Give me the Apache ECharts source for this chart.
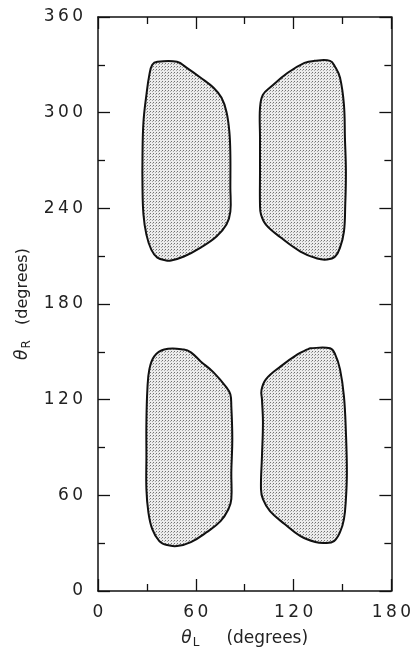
<!DOCTYPE html>
<html>
<head>
<meta charset="utf-8">
<script src="https://cdn.jsdelivr.net/npm/echarts@6/dist/echarts.min.js"></script>
<style>
  html, body { margin: 0; padding: 0; background: #fff; }
  #chart { width: 414px; height: 654px; }
</style>
</head>
<body>
<div id="chart"></div>
<script>
// axis ranges (degrees)
const thetaLRange = [0, 180];
const thetaRRange = [0, 360];
const labelStep = 60;

// region outlines, [θL, θR]
const topLeft = [
  [36.4, 331.9], [48.5, 331.9], [54.5, 328.1], [63.0, 321.9], [70.9, 315.6],
  [75.8, 309.3], [78.8, 300.6], [80.6, 288.0], [81.2, 273.6], [81.2, 253.0],
  [81.2, 237.9], [78.8, 229.8], [72.7, 222.3], [63.0, 215.4], [52.7, 209.8],
  [44.8, 207.3], [41.8, 207.3], [36.4, 209.1], [32.7, 214.1], [29.7, 223.5],
  [27.9, 236.1], [27.3, 253.0], [27.3, 273.6], [27.9, 294.3], [29.7, 311.2],
  [31.5, 323.7], [33.3, 330.0]
];
const topRight = [
  [132.7, 332.5], [142.4, 332.5], [145.5, 328.7], [148.5, 321.9], [150.9, 304.9],
  [151.5, 284.3], [152.1, 263.0], [151.7, 242.3], [150.9, 225.4], [148.5, 215.4],
  [145.5, 209.8], [140.6, 207.9], [134.5, 208.5], [124.2, 212.9], [112.1, 221.7],
  [103.0, 229.8], [100.0, 236.1], [99.4, 242.3], [99.4, 263.0], [99.4, 284.3],
  [99.4, 303.1], [101.2, 311.2], [106.1, 316.2], [116.4, 325.0], [126.7, 331.2]
];
const bottomLeft = [
  [40.6, 151.5], [52.7, 151.5], [57.0, 149.7], [63.0, 144.0], [70.9, 137.1],
  [78.8, 127.7], [81.2, 123.4], [81.8, 115.8], [82.4, 95.2], [81.8, 74.5],
  [81.8, 57.6], [80.0, 51.3], [75.2, 43.8], [66.7, 36.9], [57.0, 30.7],
  [48.5, 28.2], [42.4, 28.8], [37.6, 31.3], [33.3, 38.8], [30.9, 49.5],
  [29.7, 63.9], [29.7, 84.5], [29.7, 105.8], [30.3, 126.5], [31.5, 139.0],
  [34.5, 147.2]
];
const bottomRight = [
  [130.3, 152.2], [142.4, 152.2], [145.5, 148.4], [148.5, 139.0], [150.9, 122.1],
  [152.1, 99.6], [152.7, 74.5], [152.1, 57.6], [150.9, 45.1], [148.5, 36.9],
  [144.8, 31.3], [139.4, 30.1], [133.3, 30.7], [124.2, 34.4], [114.5, 42.0],
  [105.5, 50.1], [101.2, 57.6], [100.0, 63.9], [100.6, 84.5], [101.2, 105.8],
  [100.6, 120.2], [100.3, 126.0], [103.0, 132.8], [112.1, 140.9], [122.4, 148.4],
  [128.5, 151.5]
];

// dotted screen fill like the print
const tile = document.createElement('canvas');
tile.width = 3; tile.height = 3;
const g = tile.getContext('2d');
g.fillStyle = '#ececec';
g.fillRect(0, 0, 3, 3);
g.fillStyle = '#707070';
g.fillRect(0, 0, 1, 1);
g.fillStyle = '#a8a8a8';
g.fillRect(2, 1, 1, 1);
const stipple = { image: tile, repeat: 'repeat' };

function regionSeries(pts) {
  return {
    type: 'custom',
    data: pts,
    encode: { x: 0, y: 1 },
    silent: true,
    animation: false,
    renderItem: function (params, api) {
      if (params.dataIndex !== 0) return;
      const poly = pts.map(p => api.coord(p));
      return {
        type: 'polygon',
        shape: { points: poly, smooth: 0.4 },
        style: { fill: stipple, stroke: '#111', lineWidth: 2 }
      };
    }
  };
}

const fontFam = '"DejaVu Sans", sans-serif';
const spaced = v => String(v).split('').join('\u2009');
const axisLine = { show: true, onZero: false, lineStyle: { color: '#111', width: 1.5 } };
const tickStyle = { color: '#111', width: 1.3 };

function xAxis(pos, showLabel) {
  return {
    type: 'value', position: pos,
    min: thetaLRange[0], max: thetaLRange[1], interval: labelStep,
    axisLine: axisLine,
    axisTick: { show: true, inside: true, length: 12, lineStyle: tickStyle },
    minorTick: { show: true, splitNumber: 2, length: 7, lineStyle: tickStyle },
    splitLine: { show: false },
    axisLabel: { show: showLabel, margin: 13, color: '#222', fontSize: 17, fontFamily: fontFam, formatter: spaced },
    name: showLabel ? '{t|θ}{s|L}{d|     (degrees)}' : '',
    nameLocation: 'middle', nameGap: 38,
    nameTextStyle: {
      rich: {
        t: { fontSize: 17, fontStyle: 'italic', fontFamily: fontFam, color: '#222' },
        s: { fontSize: 12, fontFamily: fontFam, color: '#222', verticalAlign: 'bottom', padding: [8, 0, 0, 1] },
        d: { fontSize: 17, fontFamily: fontFam, color: '#222' }
      }
    }
  };
}

function yAxis(pos, showLabel) {
  return {
    type: 'value', position: pos,
    min: thetaRRange[0], max: thetaRRange[1], interval: labelStep,
    axisLine: axisLine,
    axisTick: { show: true, inside: true, length: 12, lineStyle: tickStyle },
    minorTick: { show: true, splitNumber: 2, length: 7, lineStyle: tickStyle },
    splitLine: { show: false },
    axisLabel: { show: showLabel, margin: 15, color: '#222', fontSize: 17, fontFamily: fontFam, formatter: spaced },
    name: showLabel ? '{t|θ}{s|R}{d|   (degrees)}' : '',
    nameLocation: 'middle', nameGap: 62,
    nameTextStyle: {
      rich: {
        t: { fontSize: 17, fontStyle: 'italic', fontFamily: fontFam, color: '#222' },
        s: { fontSize: 12, fontFamily: fontFam, color: '#222', padding: [8, 0, 0, 1] },
        d: { fontSize: 16, fontFamily: fontFam, color: '#222' }
      }
    }
  };
}

const chart = echarts.init(document.getElementById('chart'));
chart.setOption({
  backgroundColor: '#fff',
  animation: false,
  grid: { left: 98, right: 19, top: 17, bottom: 62 },
  xAxis: [xAxis('bottom', true), xAxis('top', false)],
  yAxis: [yAxis('left', true), yAxis('right', false)],
  series: [
    regionSeries(topLeft),
    regionSeries(topRight),
    regionSeries(bottomLeft),
    regionSeries(bottomRight)
  ]
});
</script>
</body>
</html>
